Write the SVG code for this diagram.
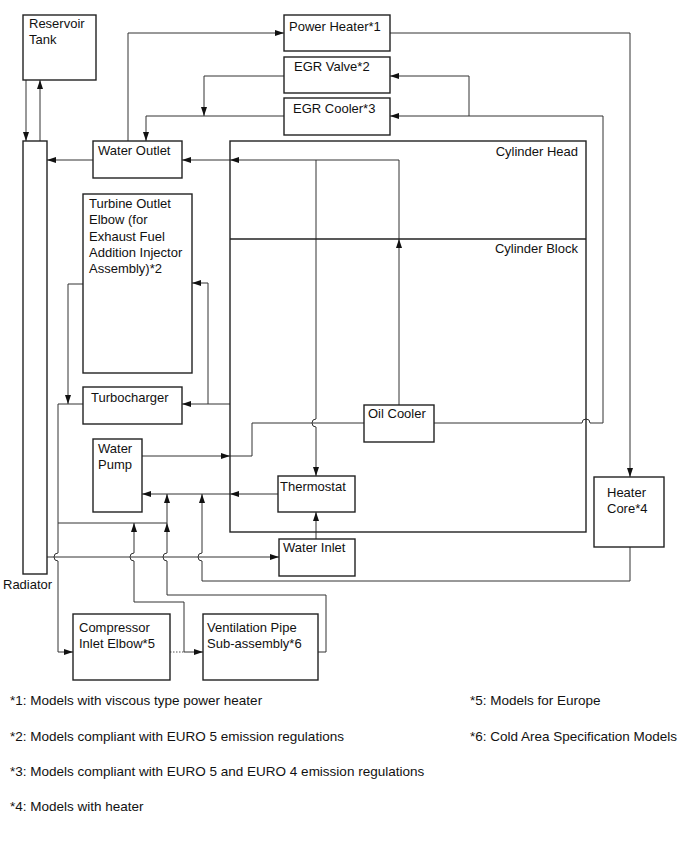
<svg xmlns="http://www.w3.org/2000/svg" width="687" height="854" viewBox="0 0 687 854">
<style>
  .box { fill: #fff; stroke: #222; stroke-width: 1.4; }
  .ln { fill: none; stroke: #333; stroke-width: 1; }
  .arr { fill: none; stroke: #333; stroke-width: 1; marker-end: url(#ah); }
  .dot { fill: none; stroke: #555; stroke-width: 1; stroke-dasharray: 1.5 1.5; }
  text { font-family: "Liberation Sans", Arial, sans-serif; font-size: 13px; fill: #111; }
  .fn { font-size: 13.5px; }
</style>
<defs>
  <marker id="ah" markerUnits="userSpaceOnUse" markerWidth="10" markerHeight="8" refX="9" refY="3" orient="auto">
    <path d="M0,0 L9,3 L0,6 z" fill="#111"/>
  </marker>
</defs>
<rect width="687" height="854" fill="#fff"/>

<g id="connectors">
  <!-- reservoir <-> radiator -->
  <path class="arr" d="M26,80 V141"/>
  <path class="arr" d="M40,141 V80"/>
  <!-- water outlet -> radiator -->
  <path class="arr" d="M93,160 H47"/>
  <!-- oil cooler -> head -->
  <path class="arr" d="M399,405 V239"/>
  <path class="arr" d="M399,239 V160 H230"/>
  <path class="arr" d="M230,160 H182"/>
  <!-- head bypass -> thermostat -->
  <path class="arr" d="M316,160 V419 A4,4 0 0 0 316,427 V476"/>
  <!-- water outlet -> power heater -->
  <path class="arr" d="M128,141 V33 H284"/>
  <!-- power heater -> heater core -->
  <path class="arr" d="M390,33 H630 V477"/>
  <!-- EGR valve / cooler outlets -->
  <path class="arr" d="M284,76 H204 V116"/>
  <path class="arr" d="M284,116 H146 V141"/>
  <!-- oil cooler right -> EGR -->
  <path class="ln" d="M434,423 H582 A4,4 0 0 1 590,423 H603 V116 H469"/>
  <path class="arr" d="M469,116 H390"/>
  <path class="arr" d="M469,116 V76 H390"/>
  <!-- oil cooler left / water pump -->
  <path class="ln" d="M364,423 H252 V456 H230"/>
  <path class="arr" d="M142,456 H230"/>
  <!-- block -> turbocharger -->
  <path class="arr" d="M230,404 H182"/>
  <path class="arr" d="M208,404 V283 H192"/>
  <!-- turbine elbow -> line -->
  <path class="arr" d="M83,284 H68 V404"/>
  <!-- turbocharger -> compressor inlet elbow -->
  <path class="arr" d="M83,404 H58 V553 A4,4 0 0 0 58,561 V652 H73"/>
  <!-- thermostat -> water pump -->
  <path class="arr" d="M278,494 H230"/>
  <path class="arr" d="M230,494 H142"/>
  <!-- water inlet -> thermostat -->
  <path class="arr" d="M316,539 V512"/>
  <!-- radiator -> water inlet -->
  <path class="arr" d="M47,557 H279"/>
  <!-- joining line -->
  <path class="ln" d="M58,523 H167"/>
  <!-- heater core return -->
  <path class="arr" d="M630,547 V581 H202 V561 A4,4 0 0 1 202,553 V494"/>
  <!-- ventilation pipe return -->
  <path class="arr" d="M318,652 H326 V595 H167 V561 A4,4 0 0 1 167,553 V523"/>
  <path class="arr" d="M167,523 V494"/>
  <!-- compressor -> ventilation -->
  <path class="dot" d="M170,652 H184"/>
  <path class="arr" d="M184,652 H203"/>
  <path class="arr" d="M184,652 V602 H134 V561 A4,4 0 0 1 134,553 V523"/>
</g>

<g id="reservoir-tank">
  <rect class="box" x="23" y="15" width="73" height="65"/>
  <text x="29" y="28">Reservoir</text>
  <text x="29" y="44">Tank</text>
</g>
<g id="radiator">
  <rect class="box" x="23" y="141" width="24" height="433"/>
  <text x="3" y="589">Radiator</text>
</g>
<g id="power-heater">
  <rect class="box" x="284" y="15" width="106" height="36"/>
  <text x="289" y="31">Power Heater*1</text>
</g>
<g id="egr-valve">
  <rect class="box" x="284" y="57" width="106" height="36"/>
  <text x="294" y="71">EGR Valve*2</text>
</g>
<g id="egr-cooler">
  <rect class="box" x="284" y="98" width="106" height="37"/>
  <text x="293" y="113">EGR Cooler*3</text>
</g>
<g id="water-outlet">
  <rect class="box" x="93" y="141" width="89" height="37"/>
  <text x="98" y="155">Water Outlet</text>
</g>
<g id="cylinder">
  <rect class="box" x="230" y="141" width="356" height="391" fill="none" style="fill:none"/>
  <line x1="230" y1="239" x2="586" y2="239" stroke="#222" stroke-width="1.4"/>
  <text x="578" y="156" text-anchor="end">Cylinder Head</text>
  <text x="578" y="253" text-anchor="end">Cylinder Block</text>
</g>
<g id="turbine-outlet-elbow">
  <rect class="box" x="83" y="194" width="109" height="179"/>
  <text x="89" y="208">Turbine Outlet</text>
  <text x="89" y="224">Elbow (for</text>
  <text x="89" y="241">Exhaust Fuel</text>
  <text x="89" y="257">Addition Injector</text>
  <text x="89" y="273">Assembly)*2</text>
</g>
<g id="turbocharger">
  <rect class="box" x="83" y="387" width="99" height="37"/>
  <text x="91" y="402">Turbocharger</text>
</g>
<g id="water-pump">
  <rect class="box" x="93" y="439" width="49" height="73"/>
  <text x="98" y="453">Water</text>
  <text x="98" y="469">Pump</text>
</g>
<g id="oil-cooler">
  <rect class="box" x="364" y="405" width="70" height="37"/>
  <text x="368" y="418">Oil Cooler</text>
</g>
<g id="thermostat">
  <rect class="box" x="278" y="476" width="77" height="36"/>
  <text x="280" y="491">Thermostat</text>
</g>
<g id="water-inlet">
  <rect class="box" x="279" y="539" width="76" height="37"/>
  <text x="283" y="552">Water Inlet</text>
</g>
<g id="heater-core">
  <rect class="box" x="594" y="477" width="70" height="70"/>
  <text x="607" y="497">Heater</text>
  <text x="607" y="513">Core*4</text>
</g>
<g id="compressor-inlet-elbow">
  <rect class="box" x="73" y="614" width="97" height="66"/>
  <text x="79" y="632">Compressor</text>
  <text x="79" y="648">Inlet Elbow*5</text>
</g>
<g id="ventilation-pipe">
  <rect class="box" x="203" y="614" width="115" height="66"/>
  <text x="207" y="632">Ventilation Pipe</text>
  <text x="207" y="648">Sub-assembly*6</text>
</g>

<g id="footnotes">
  <text class="fn" x="10" y="705">*1: Models with viscous type power heater</text>
  <text class="fn" x="10" y="741">*2: Models compliant with EURO 5 emission regulations</text>
  <text class="fn" x="10" y="776">*3: Models compliant with EURO 5 and EURO 4 emission regulations</text>
  <text class="fn" x="10" y="811">*4: Models with heater</text>
  <text class="fn" x="470" y="705">*5: Models for Europe</text>
  <text class="fn" x="470" y="741">*6: Cold Area Specification Models</text>
</g>
</svg>
